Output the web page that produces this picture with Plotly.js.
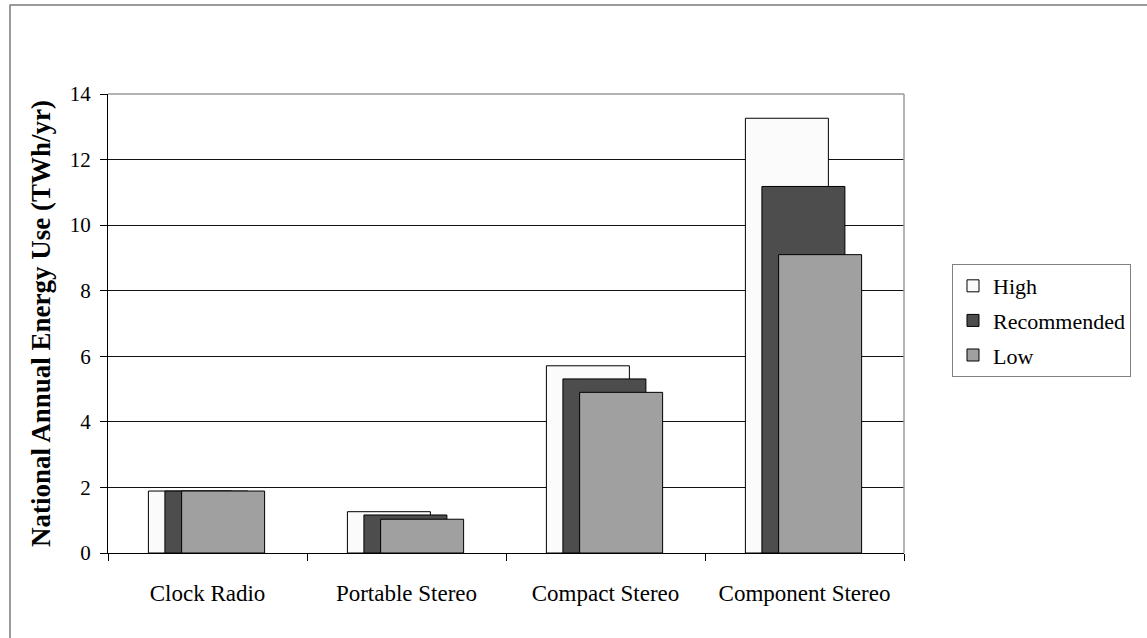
<!DOCTYPE html>
<html>
<head>
<meta charset="utf-8">
<script src="https://cdn.plot.ly/plotly-3.0.1.min.js"></script>
<style>html,body{margin:0;padding:0;background:#fff;}#chart{width:1147px;height:638px;}</style>
</head>
<body>
<div id="chart"></div>
<script>
const categories = ["Clock Radio", "Portable Stereo", "Compact Stereo", "Component Stereo"];
const seriesNames = ["High", "Recommended", "Low"];
const highValues = [1.89, 1.26, 5.71, 13.26];
const recommendedValues = [1.89, 1.16, 5.31, 11.18];
const lowValues = [1.89, 1.03, 4.90, 9.10];
const yTickValues = [0, 2, 4, 6, 8, 10, 12, 14];

const FONT = "Liberation Serif, Times New Roman, serif";
const colors = ["#FBFBFB", "#4D4D4D", "#A0A0A0"];
const offsets = [-0.297, -0.214, -0.130];
const barWidth = 0.417;
const values = [highValues, recommendedValues, lowValues];

const traces = values.map((v, i) => ({
  type: "bar",
  name: seriesNames[i],
  legendgroup: "g" + i,
  x: categories,
  y: v,
  offset: offsets[i],
  width: barWidth,
  marker: {color: colors[i], line: {color: "#000", width: 1}},
  hoverinfo: "x+y+name"
}));

const layout = {
  width: 1147, height: 638,
  margin: {l: 108, r: 243, t: 94, b: 85, autoexpand: false},
  paper_bgcolor: "#fff", plot_bgcolor: "#fff",
  barmode: "overlay",
  font: {family: FONT, color: "#000", size: 21},
  showlegend: true,
  legend: {
    x: 1.0603, y: 0.6296, xanchor: "left", yanchor: "top",
    bordercolor: "#808080", borderwidth: 1,
    font: {family: FONT, size: 22, color: "#000"},
    traceorder: "grouped", tracegroupgap: 3,
    bgcolor: "#fff"
  },
  xaxis: {
    type: "category",
    showline: true, linecolor: "#000", linewidth: 1,
    ticks: "outside", tickson: "boundaries", ticklen: 7, tickcolor: "#000",
    tickfont: {family: FONT, size: 23, color: "#000"},
    ticklabelstandoff: 19,
    showgrid: false, zeroline: false, automargin: false
  },
  yaxis: {
    range: [0, 14], tickvals: yTickValues, ticktext: yTickValues.map(String),
    showline: true, linecolor: "#000", linewidth: 1,
    ticks: "outside", ticklen: 7, tickcolor: "#000",
    tickfont: {family: FONT, size: 21, color: "#000"},
    ticklabelstandoff: 5,
    showgrid: true, gridcolor: "#111", gridwidth: 1,
    zeroline: false, automargin: false,
    title: {text: "National Annual Energy Use (TWh/yr)", standoff: 11,
            font: {family: FONT, size: 27, color: "#000", weight: "bold"}}
  },
  shapes: [
    {type: "line", xref: "x domain", yref: "y domain", x0: 0, x1: 1, y0: 1, y1: 1,
     line: {color: "#9a9a9a", width: 1.5}, layer: "above"},
    {type: "line", xref: "x domain", yref: "y domain", x0: 1, x1: 1, y0: 0, y1: 1,
     line: {color: "#9a9a9a", width: 1.5}, layer: "above"},
    {type: "rect", xref: "paper", yref: "paper", x0: -0.1231, x1: 1.6, y0: -0.4, y1: 1.1939,
     line: {color: "#7a7a7a", width: 1.5}, fillcolor: "rgba(0,0,0,0)", layer: "below"}
  ]
};

Plotly.newPlot("chart", traces, layout, {displayModeBar: false, staticPlot: true});
</script>
</body>
</html>
